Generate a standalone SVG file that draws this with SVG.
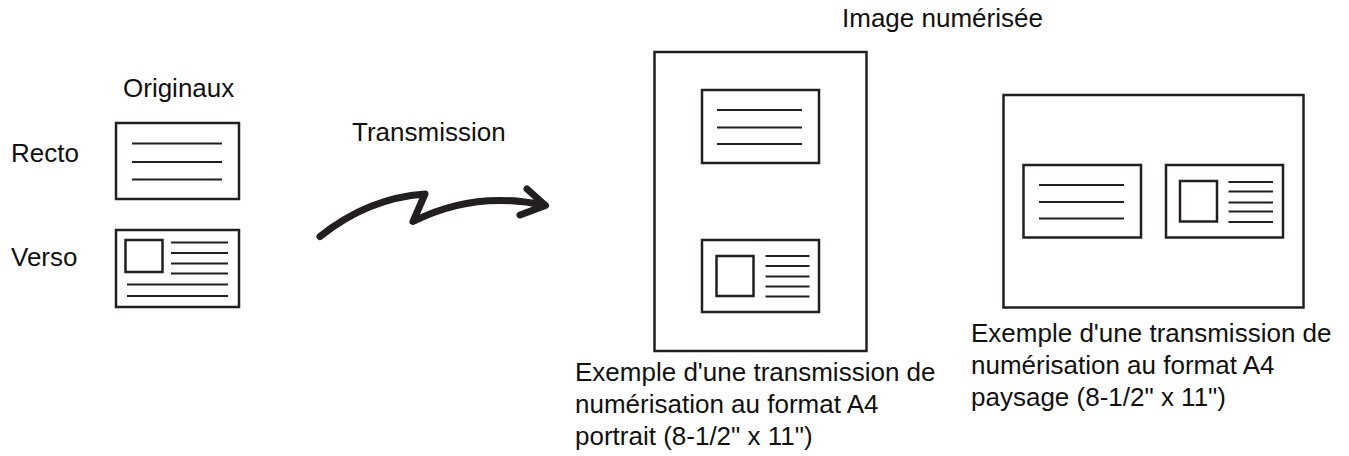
<svg xmlns="http://www.w3.org/2000/svg" width="1349" height="456" viewBox="0 0 1349 456">
<style>
text{font-family:"Liberation Sans",Arial,sans-serif;font-size:26px;fill:#111}
.box{fill:#fff;stroke:#231f20;stroke-width:2.5}
.ln{stroke:#231f20;stroke-width:2.2;fill:none}
.arrow{fill:none;stroke:#231f20;stroke-width:7;stroke-linecap:round;stroke-linejoin:round}
</style>
<rect width="1349" height="456" fill="#fff"/>
<g id="labels">
<text x="123" y="97">Originaux</text>
<text x="11" y="162">Recto</text>
<text x="11" y="266">Verso</text>
<text x="352" y="141">Transmission</text>
<text x="842" y="27">Image numérisée</text>
</g>
<g id="recto">
<rect class="box" x="116" y="123" width="123" height="76"/>
<path class="ln" d="M132 143.5H222M132 162H222M132 179.5H222"/>
</g>
<g id="verso">
<rect class="box" x="116" y="230" width="123" height="77"/>
<rect class="box" x="125.5" y="240" width="37" height="32"/>
<path class="ln" d="M171 242.5H228M171 253H228M171 263.5H228M171 273.5H228M127 284.5H228M127 296H228"/>
</g>
<g id="portrait">
<rect class="box" x="654.5" y="52" width="212" height="299"/>
<rect class="box" x="702" y="90" width="117" height="73"/>
<path class="ln" d="M717 110H802M717 127.5H802M717 144H802"/>
<rect class="box" x="702" y="240" width="117" height="72"/>
<rect class="box" x="716.5" y="256" width="37" height="40"/>
<path class="ln" d="M765.5 256H809.5M765.5 266H809.5M765.5 276.5H809.5M765.5 286.5H809.5M765.5 296.5H809.5"/>
<text x="575" y="381">Exemple d'une transmission de</text>
<text x="575" y="413">numérisation au format A4</text>
<text x="575" y="445">portrait (8-1/2" x 11")</text>
</g>
<g id="paysage">
<rect class="box" x="1003.5" y="95" width="300" height="212.5"/>
<rect class="box" x="1023.5" y="165" width="117.5" height="72.5"/>
<path class="ln" d="M1039 185H1124M1039 202H1124M1039 218.5H1124"/>
<rect class="box" x="1166" y="165" width="117" height="72.5"/>
<rect class="box" x="1180" y="181" width="37" height="40.5"/>
<path class="ln" d="M1228.5 182H1273M1228.5 191.5H1273M1228.5 202.5H1273M1228.5 211.5H1273M1228.5 222H1273"/>
<text x="971" y="342">Exemple d'une transmission de</text>
<text x="971" y="374">numérisation au format A4</text>
<text x="971" y="406">paysage (8-1/2" x 11")</text>
</g>
<g id="connectors">
<path class="arrow" d="M320 236.5Q368 198 425 194L413 221.5Q475 190 545 205.5M527 189L545.5 205.5L520 215"/>
</g>
</svg>
